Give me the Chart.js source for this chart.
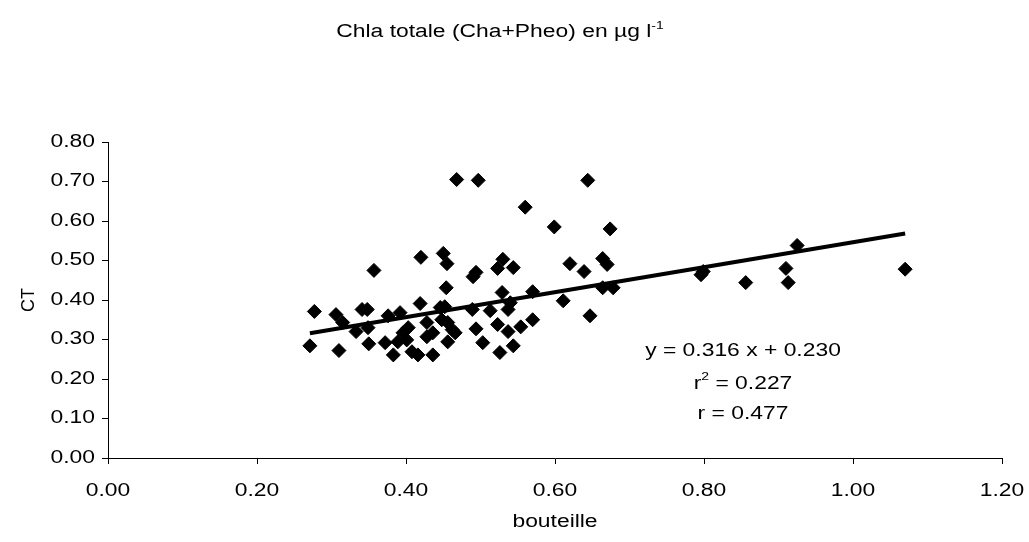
<!DOCTYPE html>
<html>
<head>
<meta charset="utf-8">
<script src="https://cdn.jsdelivr.net/npm/chart.js@4"></script>
<style>
  html, body { margin: 0; padding: 0; background: #fff; }
  #plot { display: block; }
</style>
</head>
<body>
<canvas id="plot" width="1029" height="542"></canvas>
<script>
'use strict';

// bouteille (x) and CT (y)
const bouteille = [
    0.271, 0.277, 0.306, 0.310, 0.315, 0.333, 0.341, 0.348, 0.349, 0.350,
    0.357, 0.372, 0.376, 0.383, 0.392, 0.389, 0.396, 0.403, 0.401, 0.408,
    0.416, 0.419, 0.420, 0.428, 0.436, 0.428, 0.436, 0.446, 0.452, 0.450,
    0.455, 0.454, 0.448, 0.456, 0.462, 0.456, 0.466, 0.468, 0.494, 0.503,
    0.497, 0.490, 0.494, 0.489, 0.513, 0.523, 0.526, 0.530, 0.523, 0.544,
    0.529, 0.537, 0.540, 0.537, 0.544, 0.554, 0.570, 0.560, 0.570, 0.599,
    0.611, 0.620, 0.639, 0.644, 0.647, 0.664, 0.678, 0.664, 0.670, 0.674,
    0.796, 0.799, 0.856, 0.910, 0.913, 0.925, 1.070
];
const ct = [
    0.284, 0.371, 0.363, 0.272, 0.343, 0.320, 0.376, 0.376, 0.330, 0.289,
    0.475, 0.292, 0.360, 0.261, 0.368, 0.294, 0.317, 0.330, 0.299, 0.269,
    0.261, 0.391, 0.508, 0.343, 0.317, 0.307, 0.261, 0.381, 0.383, 0.518,
    0.492, 0.431, 0.350, 0.343, 0.325, 0.294, 0.317, 0.705, 0.327, 0.292,
    0.703, 0.459, 0.470, 0.376, 0.373, 0.338, 0.267, 0.503, 0.480, 0.482,
    0.419, 0.376, 0.393, 0.320, 0.284, 0.332, 0.350, 0.635, 0.421, 0.585,
    0.398, 0.492, 0.472, 0.703, 0.360, 0.431, 0.431, 0.505, 0.490, 0.580,
    0.464, 0.472, 0.444, 0.480, 0.444, 0.538, 0.478
];

// regression shown on the chart
const trendSlope = 0.316;
const trendIntercept = 0.230;
const statLines = ['y = 0.316 x + 0.230', 'r2 = 0.227', 'r = 0.477'];

const xTicks = [0, 0.2, 0.4, 0.6, 0.8, 1.0, 1.2];
const yTicks = [0, 0.1, 0.2, 0.3, 0.4, 0.5, 0.6, 0.7, 0.8];

const FONT = 'Liberation Sans, Arial, sans-serif';
const STRETCH = 1.27; // the original text is a bit wide

const points = bouteille.map((x, i) => ({ x: x, y: ct[i] }));
const xMin = Math.min(...bouteille);
const xMax = Math.max(...bouteille);
const trend = [
    { x: xMin, y: trendSlope * xMin + trendIntercept },
    { x: xMax, y: trendSlope * xMax + trendIntercept }
];

// draws a row of [text, size, dy] pieces, horizontally stretched
// align: 0 = centred on x, 1 = right edge on x
function drawWide(ctx, pieces, x0, y, align, baseline) {
    let total = 0;
    for (const p of pieces) {
        ctx.font = p[1] + 'px ' + FONT;
        total += ctx.measureText(p[0]).width;
    }
    ctx.save();
    ctx.translate(x0, y);
    ctx.scale(STRETCH, 1);
    ctx.textAlign = 'left';
    ctx.textBaseline = baseline || 'alphabetic';
    let x = align === 1 ? -total : -total / 2;
    for (const p of pieces) {
        ctx.font = p[1] + 'px ' + FONT;
        ctx.fillText(p[0], x, p[2]);
        x += ctx.measureText(p[0]).width;
    }
    ctx.restore();
}

// tick labels, title with superscript, stats text and axis titles
const textPlugin = {
    id: 'texts',
    afterDraw(chart) {
        const ctx = chart.ctx;
        const area = chart.chartArea;
        const xs = chart.scales.x;
        const ys = chart.scales.y;
        ctx.save();
        ctx.fillStyle = '#000';

        for (const t of xs.ticks) {
            drawWide(ctx, [[t.value.toFixed(2), 18, 0]], xs.getPixelForValue(t.value), 491, 0, 'middle');
        }
        for (const t of ys.ticks) {
            drawWide(ctx, [[t.value.toFixed(2), 18, 0]], 95, ys.getPixelForValue(t.value), 1, 'middle');
        }

        drawWide(ctx, [['Chla totale (Cha+Pheo) en µg l', 18, 0], ['-1', 11, -8]], 500, 37);

        drawWide(ctx, [[statLines[0], 18, 0]], 743, 356);
        drawWide(ctx, [['r', 18, 0], ['2', 11, -9], [' = 0.227', 18, 0]], 743, 389);
        drawWide(ctx, [[statLines[2], 18, 0]], 743, 419);

        drawWide(ctx, [['bouteille', 18, 0]], (area.left + area.right) / 2, 527);

        ctx.font = '18px ' + FONT;
        ctx.textAlign = 'center';
        ctx.textBaseline = 'alphabetic';
        ctx.translate(34, (area.top + area.bottom) / 2);
        ctx.rotate(-Math.PI / 2);
        ctx.fillText('CT', 0, 0);
        ctx.restore();
    }
};

const axisTicks = {
    color: 'rgba(0,0,0,0)',
    font: { family: FONT, size: 18 },
    maxRotation: 0,
    callback: (v) => Number(v).toFixed(2)
};
const axisGrid = {
    drawOnChartArea: false,
    drawTicks: true,
    tickLength: 6,
    color: '#000'
};

const config = {
    type: 'scatter',
    data: {
        datasets: [
            {
                label: 'trend',
                type: 'line',
                data: trend,
                borderColor: '#000',
                borderWidth: 4,
                pointRadius: 0,
                fill: false,
                order: 0
            },
            {
                label: 'CT',
                data: points,
                pointStyle: 'rectRot',
                pointRadius: 7,
                backgroundColor: '#000',
                borderColor: '#000',
                borderWidth: 1,
                order: 1
            }
        ]
    },
    plugins: [textPlugin],
    options: {
        responsive: false,
        animation: false,
        events: [],
        layout: {
            padding: { left: 0, top: 142, right: 27, bottom: 0 }
        },
        plugins: {
            legend: { display: false },
            title: { display: false },
            tooltip: { enabled: false }
        },
        scales: {
            x: {
                type: 'linear',
                min: 0,
                max: 1.2,
                afterBuildTicks: (scale) => { scale.ticks = xTicks.map(v => ({ value: v })); },
                afterFit: (scale) => {
                    scale.height = 84;
                    scale.paddingLeft = 0;
                    scale.paddingRight = 0;
                },
                ticks: axisTicks,
                grid: axisGrid,
                border: { color: '#000', width: 1 }
            },
            y: {
                type: 'linear',
                min: 0,
                max: 0.8,
                afterBuildTicks: (scale) => { scale.ticks = yTicks.map(v => ({ value: v })); },
                afterFit: (scale) => {
                    scale.width = 108;
                    scale.paddingTop = 0;
                    scale.paddingBottom = 0;
                },
                ticks: axisTicks,
                grid: axisGrid,
                border: { color: '#000', width: 1 }
            }
        }
    }
};

new Chart(document.getElementById('plot'), config);
</script>
</body>
</html>
